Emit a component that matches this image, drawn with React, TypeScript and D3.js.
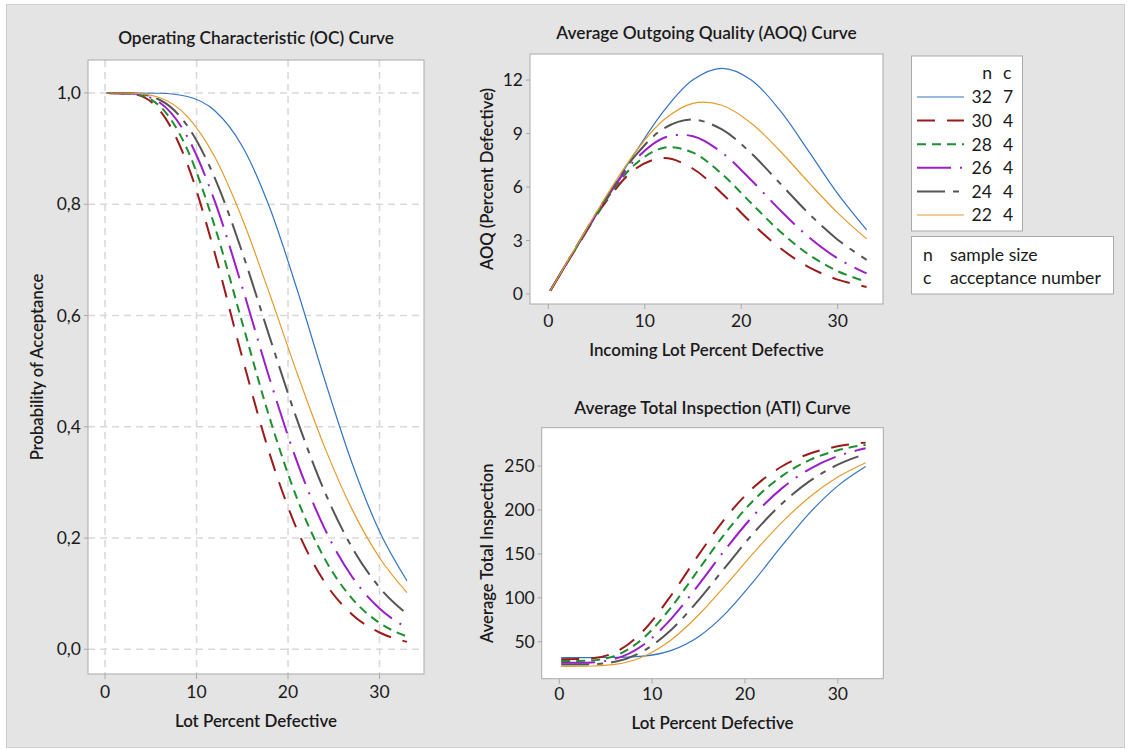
import React from "react";
import * as d3 from "d3";

// ---------------- DATA ----------------
const lotPercentDefective = [0.2, 3, 6, 9, 12, 15, 18, 21, 24, 27, 30, 33];
const sampleSizes = [32, 30, 28, 26, 24, 22];
const acceptanceNumbers = [7, 4, 4, 4, 4, 4];

// Probability of acceptance (OC curve)
const oc_n32 = [1.0, 1.0, 0.9995, 0.9937, 0.9681, 0.9042, 0.7936, 0.6463, 0.4849, 0.3344, 0.2118, 0.1231];
const oc_n30 = [1.0, 0.9982, 0.9685, 0.8723, 0.7118, 0.5245, 0.3509, 0.2146, 0.1208, 0.0627, 0.0302, 0.0134];
const oc_n28 = [1.0, 0.9987, 0.9761, 0.8981, 0.7597, 0.587, 0.4153, 0.2706, 0.163, 0.0912, 0.0474, 0.023];
const oc_n26 = [1.0, 0.9991, 0.9824, 0.9211, 0.8051, 0.6505, 0.4858, 0.3364, 0.2168, 0.1304, 0.0733, 0.0386];
const oc_n24 = [1.0, 0.9994, 0.9874, 0.9409, 0.8471, 0.7134, 0.5607, 0.4119, 0.2834, 0.183, 0.1111, 0.0634];
const oc_n22 = [1.0, 0.9996, 0.9914, 0.9576, 0.8848, 0.7738, 0.6381, 0.4959, 0.3634, 0.2515, 0.1646, 0.1017];

// Average outgoing quality (percent defective)
const aoq_n32 = [0.177, 2.657, 5.312, 7.921, 10.29, 12.013, 12.652, 12.021, 10.307, 7.997, 5.628, 3.598];
const aoq_n30 = [0.179, 2.674, 5.188, 7.01, 7.626, 7.025, 5.64, 4.024, 2.589, 1.512, 0.809, 0.395];
const aoq_n28 = [0.18, 2.696, 5.271, 7.275, 8.205, 7.925, 6.728, 5.114, 3.521, 2.216, 1.28, 0.683];
const aoq_n26 = [0.181, 2.719, 5.347, 7.52, 8.764, 8.851, 7.932, 6.408, 4.72, 3.194, 1.995, 1.155];
const aoq_n24 = [0.183, 2.741, 5.417, 7.742, 9.294, 9.784, 9.228, 7.909, 6.219, 4.518, 3.047, 1.913];
const aoq_n22 = [0.184, 2.763, 5.481, 7.941, 9.783, 10.695, 10.583, 9.595, 8.036, 6.257, 4.55, 3.092];

// Average total inspection
const ati_n32 = [32, 32.0, 32.1, 33.6, 39.9, 55.8, 83.2, 119.7, 159.7, 197.1, 227.5, 249.5];
const ati_n30 = [30, 30.5, 37.9, 61.9, 102.1, 148.9, 192.3, 226.4, 249.8, 264.3, 272.5, 276.7];
const ati_n28 = [28, 28.3, 34.0, 53.7, 88.6, 132.1, 175.3, 211.8, 238.9, 257.0, 268.1, 274.2];
const ati_n26 = [26, 26.2, 30.5, 46.0, 75.5, 114.8, 156.6, 194.6, 224.9, 246.9, 261.4, 270.2];
const ati_n24 = [24, 24.2, 27.2, 39.1, 63.1, 97.4, 136.5, 174.6, 207.4, 233.2, 251.6, 263.8];
const ati_n22 = [22, 22.1, 24.2, 32.9, 51.7, 80.4, 115.4, 152.1, 186.2, 215.1, 237.5, 253.8];

const ocTicks = [0, 0.2, 0.4, 0.6, 0.8, 1.0];
const aoqTicks = [0, 3, 6, 9, 12];
const atiTicks = [50, 100, 150, 200, 250];
const xTicks = [0, 10, 20, 30];

// ---------------- STYLES ----------------
const FONT = "Lato, 'Open Sans', sans-serif";
const seriesStyles = [
  { color: "#3274c4", width: 1.2, dash: "" },
  { color: "#9c1a1a", width: 2, dash: "18 12" },
  { color: "#1c8f2e", width: 2, dash: "9 6" },
  { color: "#9a1ec9", width: 2, dash: "34 9 2 9" },
  { color: "#555555", width: 2, dash: "28 8 6 8" },
  { color: "#e49b2c", width: 1.2, dash: "" },
];

const ocSeries = [oc_n32, oc_n30, oc_n28, oc_n26, oc_n24, oc_n22];
const aoqSeries = [aoq_n32, aoq_n30, aoq_n28, aoq_n26, aoq_n24, aoq_n22];
const atiSeries = [ati_n32, ati_n30, ati_n28, ati_n26, ati_n24, ati_n22];

type PanelProps = {
  left: number; right: number; top: number; bottom: number;
  xDomain: [number, number]; yDomain: [number, number];
  yTicks: number[]; fmt: (v: number) => string;
  title: string; titleY: number;
  xLabel: string; xLabelY: number;
  yLabel: string; yLabelX: number;
  tickLabelDy: number;
  grid?: boolean;
  data: number[][];
  curve: d3.CurveFactory;
};

function Panel(p: PanelProps) {
  const x = d3.scaleLinear().domain(p.xDomain).range([p.left, p.right]);
  const y = d3.scaleLinear().domain(p.yDomain).range([p.bottom, p.top]);
  const cx = (p.left + p.right) / 2;
  const cy = (p.top + p.bottom) / 2;
  const line = d3
    .line<number>()
    .x((_, i) => x(lotPercentDefective[i]))
    .y((d) => y(d))
    .curve(p.curve);
  const frame = "#a9a9a9";
  return (
    <g>
      <rect x={p.left} y={p.top} width={p.right - p.left} height={p.bottom - p.top} fill="#ffffff" />
      {p.grid && (
        <g stroke="#d9d9d9" strokeWidth={1.6} strokeDasharray="7 5">
          {xTicks.map((t) => (
            <line key={"gx" + t} x1={x(t)} x2={x(t)} y1={p.top} y2={p.bottom} />
          ))}
          {p.yTicks.map((t) => (
            <line key={"gy" + t} x1={p.left} x2={p.right} y1={y(t)} y2={y(t)} />
          ))}
        </g>
      )}
      <g fill="none">
        {p.data.map((vals, i) => (
          <path
            key={i}
            d={line(vals) || ""}
            stroke={seriesStyles[i].color}
            strokeWidth={seriesStyles[i].width}
            strokeDasharray={seriesStyles[i].dash}
          />
        ))}
      </g>
      <rect x={p.left} y={p.top} width={p.right - p.left} height={p.bottom - p.top} fill="none" stroke={frame} strokeWidth={1} />
      <g stroke={frame} strokeWidth={1}>
        {xTicks.map((t) => (
          <line key={"tx" + t} x1={x(t)} x2={x(t)} y1={p.bottom} y2={p.bottom + 5} />
        ))}
        {p.yTicks.map((t) => (
          <line key={"ty" + t} x1={p.left - 4} x2={p.left} y1={y(t)} y2={y(t)} />
        ))}
      </g>
      <g fontFamily={FONT} fontSize={17.5} fill="#1a1a1a">
        {xTicks.map((t) => (
          <text key={"lx" + t} x={x(t)} y={p.bottom + p.tickLabelDy} textAnchor="middle">
            {t}
          </text>
        ))}
        {p.yTicks.map((t) => (
          <text key={"ly" + t} x={p.left - 7} y={y(t) + 6} textAnchor="end">
            {p.fmt(t)}
          </text>
        ))}
      </g>
      <g fontFamily={FONT} fontSize={16.9} fontWeight={600} fill="#1a1a1a" textAnchor="middle">
        <text x={cx} y={p.titleY} fontSize={17.3}>{p.title}</text>
        <text x={cx} y={p.xLabelY}>{p.xLabel}</text>
        <text transform={`translate(${p.yLabelX},${cy}) rotate(-90)`} fontSize={16.6}>{p.yLabel}</text>
      </g>
    </g>
  );
}

function Legend() {
  const rowY0 = 97;
  const step = 23.6;
  return (
    <g fontFamily={FONT} fontSize={17.6} fill="#1a1a1a">
      <rect x={911.5} y={56} width={111} height={175} fill="#ffffff" stroke="#a9a9a9" />
      <text x={992} y={79} textAnchor="end">n</text>
      <text x={1003} y={79}>c</text>
      {sampleSizes.map((n, i) => {
        const yy = rowY0 + i * step;
        const s = seriesStyles[i];
        return (
          <g key={i}>
            <line x1={917} x2={964} y1={yy} y2={yy} stroke={s.color} strokeWidth={s.width} strokeDasharray={s.dash} />
            <text x={992} y={yy + 6.3} textAnchor="end">{n}</text>
            <text x={1003} y={yy + 6.3}>{acceptanceNumbers[i]}</text>
          </g>
        );
      })}
      <rect x={911.5} y={236.5} width={202} height={57.5} fill="#ffffff" stroke="#a9a9a9" />
      <text x={923} y={260.5}>n</text>
      <text x={950} y={260.5}>sample size</text>
      <text x={923} y={284}>c</text>
      <text x={950} y={284}>acceptance number</text>
    </g>
  );
}

export default function App() {
  const fmtComma = (v: number) => d3.format(".1f")(v).replace(".", ",");
  const fmtInt = (v: number) => String(v);
  return (
    <div style={{ position: "absolute", left: 0, top: 0 }}>
      <svg width={1128} height={749} style={{ display: "block" }}>
        <rect x={0} y={0} width={1128} height={749} fill="#ffffff" />
        <rect x={6.5} y={4.5} width={1118} height={743} fill="#e4e4e4" stroke="#cdcdcd" />
        <Panel
          left={88} right={424} top={60} bottom={674}
          xDomain={[-1.86, 34.86]} yDomain={[-0.0444, 1.0593]}
          yTicks={ocTicks} fmt={fmtComma}
          title="Operating Characteristic (OC) Curve" titleY={44}
          xLabel="Lot Percent Defective" xLabelY={727}
          yLabel="Probability of Acceptance" yLabelX={43}
          tickLabelDy={24}
          grid
          data={ocSeries}
          curve={d3.curveMonotoneX}
        />
        <Panel
          left={530} right={883} top={54} bottom={304}
          xDomain={[-1.9, 34.7]} yDomain={[-0.56, 13.46]}
          yTicks={aoqTicks} fmt={fmtInt}
          title="Average Outgoing Quality (AOQ) Curve" titleY={39}
          xLabel="Incoming Lot Percent Defective" xLabelY={356}
          yLabel="AOQ (Percent Defective)" yLabelX={492.5}
          tickLabelDy={22.5}
          data={aoqSeries}
          curve={d3.curveCatmullRom.alpha(0.5)}
        />
        <Panel
          left={541.7} right={883.3} top={427.7} bottom={678.7}
          xDomain={[-1.9, 34.9]} yDomain={[7.9, 293.7]}
          yTicks={atiTicks} fmt={fmtInt}
          title="Average Total Inspection (ATI) Curve" titleY={414}
          xLabel="Lot Percent Defective" xLabelY={729}
          yLabel="Average Total Inspection" yLabelX={492.5}
          tickLabelDy={21.5}
          data={atiSeries}
          curve={d3.curveMonotoneX}
        />
        <Legend />
      </svg>
    </div>
  );
}
